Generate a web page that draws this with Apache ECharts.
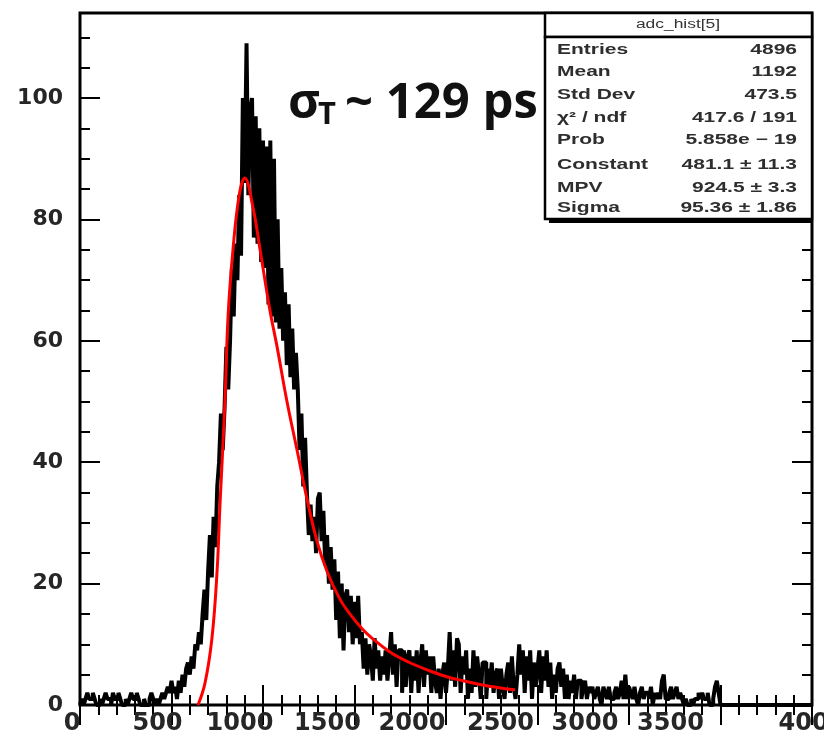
<!DOCTYPE html>
<html>
<head>
<meta charset="utf-8">
<script src="https://cdn.jsdelivr.net/npm/echarts@6/dist/echarts.min.js"></script>
<style>
html,body{margin:0;padding:0;background:#fff;}
#chart{width:824px;height:739px;}
</style>
</head>
<body>
<div id="chart"></div>
<script>
// ---- data ----
const binWidth = 10;          // 400 bins from 0 to 4000
const counts = [
  0,1,0, 1,2,1,1,2,1,0, 0,1,0, 1,2,1,1,0,2,1,1,2,1,0, 0,1,0, 1,2,1,1,2,1, 0,0,1,0,0, 1,2,1,0,1, 0,1,2,1,2,3,2,
  4,2,3,1,4,2, 5,3,6, 7,5,8,6, 10,
  9,12,10, 15,19,14, 22,28,21, 31,26,36, 40,48,42, 49,59,52,
  60,72,64,76,70,84,74,100,
  86,109,84,98, 100,77,97,76,95, 73,93,72,92, 66,93,64,90,63, 80,62,
  72,60,68,56,66,54,62,52,58, 52,42,48,36,44, 35,28,33,27,
  31,25,34,35,27,32,23,28,20,26,19, 24,14,22,11,20,9,18, 19,12,18,10,17,11,18,10,
  12,6,11,5,10,8,4,11,6,9,4,8,5,9,4, 8,12,5,10,3,9,
  9,2,9,3,8,9,2,8,4,9,2,7, 10,3,9,5, 8,2,8,4,2, 6,1,5,7,2,6,
  12,4,9,3,11, 10,2,8,5,9, 1,6,2, 9,3,8,5,1,7,
  7,1,6,3,7,2,5,6,1,6,3, 1,5, 7,2,8,3, 1,5, 10,5,9,2,
  8,4,9,1,7,3,6, 9,2,8,4,9,3,7,1, 5,2,6, 7,3,6,1,
  5,1,4,2,5,1,4, 4,1,3,4,1,3,2,
  3,1,2,3,1,0,3,2,1,3,1,1,2,3,1,2, 4,1,5,1,3,
  2,1,3,1,0,2,3,1,2,2,1,3,0,2,1,2, 1,4,5,1,1, 2,3,1,2,3,1,2,1,
  0,1,0,0,1,0,1, 1,2,1,2,1,1,2,0, 0,1, 3,4,2,
  0,0,0,0,0,0,0,0,0,0, 0,0,0,0,0,0,0,0,0,0, 0,0,0,0,0,0,0,0,0,0,
  0,0,0,0,0,0,0,0,0,0, 0,0,0,0,0,0,0,0,0,0
];
// Landau fit curve
const fitX = [645, 683, 721, 749, 765, 792, 809, 836, 870, 900, 945, 984, 1038, 1077, 1131, 1186, 1240, 1295, 1350, 1421, 1480, 1540, 1600, 1700, 1800, 1913, 2000, 2093, 2200, 2279, 2377];
const fitY = [0, 3.6, 11, 22, 33, 50, 64, 75, 84, 86.8, 82, 75, 65, 59, 50, 42, 34, 27, 22, 17.4, 14.8, 12.6, 10.9, 8.6, 7.0, 5.6, 4.7, 4.0, 3.3, 2.9, 2.5];
const xTicks = [0, 500, 1000, 1500, 2000, 2500, 3000, 3500, 4000];
const yLabelStep = 20;
const yMinorStep = 5;
const yMax = 114;
const histTitle = 'adc_hist[5]';
const statLabels = ['Entries', 'Mean', 'Std Dev', 'χ² / ndf', 'Prob', 'Constant', 'MPV', 'Sigma'];
const statValues = ['4896', '1192', '473.5', '417.6 / 191', '5.858e − 19', '481.1 ± 11.3', '924.5 ± 3.3', '95.36 ± 1.86'];
const annotation = { sym: 'σ', sub: 'T', rest: '~ 129 ps' };

// ---- layout / style (not data) ----
// leftward shift (px) of each x tick label, as seen in the reference print
const xLabelShift = [8, 14, 23, 27, 34, 37, 44, 50, 0];

// ---- build ----
const histData = counts.map((c, i) => [i * binWidth, c]);
histData.push([counts.length * binWidth, counts[counts.length - 1]]);
const fitData = fitX.map((x, i) => [x, fitY[i]]);

const chart = echarts.init(document.getElementById('chart'), null, { renderer: 'canvas' });

const tickLine = { color: '#000', width: 2 };
const xFont = { fontFamily: 'DejaVu Sans', fontWeight: 'bold', fontSize: 24, color: '#262626' };
const yFont = { fontFamily: 'DejaVu Sans', fontWeight: 'bold', fontSize: 22, color: '#262626' };

const xRich = {};
xTicks.forEach((t, i) => {
  xRich['s' + i] = Object.assign({ padding: [0, 2 * xLabelShift[i], 0, 0] }, xFont);
});

function xAx(pos, showLabel) {
  return {
    type: 'value', min: xTicks[0], max: xTicks[xTicks.length - 1], interval: xTicks[1] - xTicks[0], position: pos,
    axisLine: { show: false },
    axisTick: { show: true, inside: true, length: 20, lineStyle: tickLine },
    minorTick: { show: true, splitNumber: 5, length: 10, lineStyle: tickLine },
    splitLine: { show: false }, minorSplitLine: { show: false },
    axisLabel: Object.assign({ show: showLabel, margin: 7, showMinLabel: true, showMaxLabel: true,
      formatter: v => { const i = xTicks.indexOf(v); return i < 0 ? '' : '{s' + i + '|' + v + '}'; },
      rich: xRich }, xFont)
  };
}
function yAx(pos, step, len, showLabel) {
  return {
    type: 'value', min: 0, max: yMax, interval: step, position: pos,
    axisLine: { show: false },
    axisTick: { show: true, inside: true, length: len, lineStyle: tickLine },
    splitLine: { show: false },
    axisLabel: Object.assign({
      show: showLabel, margin: 17, showMaxLabel: false,
      formatter: v => (v % yLabelStep === 0 ? String(v) : '')
    }, yFont)
  };
}

const statFont = { fontFamily: 'Liberation Sans', fontWeight: 'bold', fontSize: 14, fill: '#2e2e2e' };
const rowY = [50, 72, 95, 118, 140, 165, 188, 208];
const graphics = [
  { type: 'rect', z: 100, shape: { x: 549, y: 17, width: 264, height: 206 }, style: { fill: '#000' } },
  { type: 'rect', z: 101, shape: { x: 545, y: 13, width: 267, height: 24 }, style: { fill: '#fff', stroke: '#000', lineWidth: 2.5 } },
  { type: 'rect', z: 101, shape: { x: 545, y: 37, width: 267, height: 182 }, style: { fill: '#fff', stroke: '#000', lineWidth: 2.5 } },
  { type: 'text', z: 102, x: 678, y: 25, scaleX: 1.45,
    style: Object.assign({ text: histTitle, textAlign: 'center', textVerticalAlign: 'middle' }, statFont, { fontSize: 12, fontWeight: 'normal', fill: '#333' }) }
];
statLabels.forEach((s, i) => {
  graphics.push({ type: 'text', z: 102, x: 557, y: rowY[i], scaleX: 1.5,
    style: Object.assign({ text: s, textAlign: 'left', textVerticalAlign: 'middle' }, statFont) });
  graphics.push({ type: 'text', z: 102, x: 797, y: rowY[i], scaleX: 1.5,
    style: Object.assign({ text: statValues[i], textAlign: 'right', textVerticalAlign: 'middle' }, statFont) });
});
const annFont = { fontFamily: 'Open Sans', fontWeight: 'bold', fill: '#111' };
graphics.push({ type: 'text', z: 103, x: 288, y: 104,
  style: Object.assign({ text: annotation.sym, fontSize: 49, textAlign: 'left', textVerticalAlign: 'middle' }, annFont) });
graphics.push({ type: 'text', z: 103, x: 318, y: 115,
  style: Object.assign({ text: annotation.sub, fontSize: 31, textAlign: 'left', textVerticalAlign: 'middle' }, annFont) });
graphics.push({ type: 'text', z: 103, x: 345, y: 104,
  style: Object.assign({ text: annotation.rest, fontSize: 49, textAlign: 'left', textVerticalAlign: 'middle' }, annFont) });

chart.setOption({
  animation: false,
  backgroundColor: '#fff',
  grid: { left: 80, right: 12, top: 13, bottom: 34, show: true, borderColor: '#000', borderWidth: 3,
    backgroundColor: 'transparent', containLabel: false, outerBoundsMode: 'none' },
  xAxis: [xAx('bottom', true), xAx('top', false)],
  yAxis: [
    yAx('left', yMinorStep, 10, true),
    yAx('left', yLabelStep, 20, false),
    yAx('right', yMinorStep, 10, false),
    yAx('right', yLabelStep, 20, false)
  ],
  series: [
    { type: 'line', name: 'hist', xAxisIndex: 0, yAxisIndex: 0, data: histData, step: 'end',
      symbol: 'none', lineStyle: { color: '#000', width: 4 }, z: 5 },
    { type: 'line', name: 'fit', xAxisIndex: 0, yAxisIndex: 0, data: fitData, smooth: 0.4,
      symbol: 'none', lineStyle: { color: '#ff0000', width: 3 }, z: 6 }
  ],
  graphic: graphics
});
</script>
</body>
</html>
